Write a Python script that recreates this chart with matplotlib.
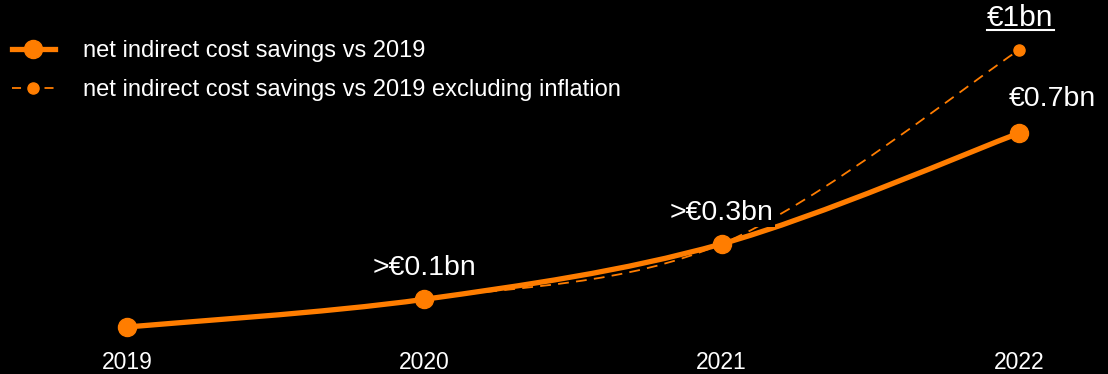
import numpy as np
import matplotlib
matplotlib.use('Agg')
import matplotlib.pyplot as plt
from matplotlib.path import Path
from matplotlib.patches import PathPatch
from matplotlib.lines import Line2D

years = [2019, 2020, 2021, 2022]
savings = [0.0, 0.1, 0.3, 0.7]
savings_ex_inflation = [0.0, 0.1, 0.3, 1.0]
labels_solid = ['', '>€0.1bn', '>€0.3bn', '€0.7bn']
label_dashed = '€1bn'
legend_labels = ['net indirect cost savings vs 2019',
                 'net indirect cost savings vs 2019 excluding inflation']

orange = '#ff7d00'
plt.rcParams['font.family'] = ['Liberation Sans', 'DejaVu Sans']


def smooth_path(x, y):
    # catmull-rom style smoothing turned into bezier segments
    p = np.column_stack([x, y]).astype(float)
    p = np.vstack([p[0], p, p[-1]])
    verts = [p[1]]
    codes = [Path.MOVETO]
    for i in range(1, len(p) - 2):
        c1 = p[i] + (p[i + 1] - p[i - 1]) / 6
        c2 = p[i + 1] - (p[i + 2] - p[i]) / 6
        verts += [c1, c2, p[i + 1]]
        codes += [Path.CURVE4] * 3
    return Path(verts, codes)


fig = plt.figure(figsize=(11.08, 3.74), dpi=100, facecolor='black')
ax = fig.add_axes([0, 29 / 374, 1, 345 / 374])
ax.set_facecolor('black')

ax.add_patch(PathPatch(smooth_path(years, savings_ex_inflation), fill=False,
                       edgecolor=orange, lw=1.3, linestyle=(0, (6, 4)), zorder=2))
ax.plot(years, savings_ex_inflation, 'o', color=orange, ms=8, zorder=2)
ax.add_patch(PathPatch(smooth_path(years, savings), fill=False,
                       edgecolor=orange, lw=3.8, zorder=3, capstyle='round'))
ax.plot(years, savings, 'o', color=orange, ms=13, zorder=4)

ax.set_xlim(2018.573, 2022.299)
ax.set_ylim(-0.065, 1.1805)
ax.set_xticks(years)
ax.set_xticklabels([str(y) for y in years])
ax.tick_params(axis='x', length=0, pad=4, labelsize=16.5, colors='white')
ax.set_yticks([])
for s in ax.spines.values():
    s.set_visible(False)

offsets = [(0, 0), (0, 13), (0, 13), (24, 15)]
for x, y, lab, off in zip(years, savings, labels_solid, offsets):
    if lab:
        ax.annotate(lab, (x, y), xytext=off, textcoords='offset points',
                    ha='center', va='bottom', color='white', fontsize=20.5, zorder=5,
                    bbox=dict(boxstyle='square,pad=0.05', fc='black', ec='none'))

t = ax.annotate(label_dashed, (years[-1], savings_ex_inflation[-1]), xytext=(1, 13),
                textcoords='offset points', ha='center', va='bottom',
                color='white', fontsize=21.5)

handles = [Line2D([], [], color=orange, lw=3.8, marker='o', ms=13),
           Line2D([], [], color=orange, lw=1.3, linestyle=(0, (5, 4)), marker='o', ms=8)]
leg = ax.legend(handles, legend_labels, loc='upper left', bbox_to_anchor=(0.0108, 0.883),
                frameon=False, fontsize=17, labelcolor='white', handlelength=1.82,
                handletextpad=1.2, labelspacing=0.72, borderaxespad=0, borderpad=0)

fig.canvas.draw()
bb = t.get_window_extent()
fig.add_artist(Line2D([bb.x0 / 1108, bb.x1 / 1108], [(bb.y0 + 2) / 374, (bb.y0 + 2) / 374],
                      color='white', lw=1.5))

fig.savefig('out.png', dpi=100, facecolor='black')
